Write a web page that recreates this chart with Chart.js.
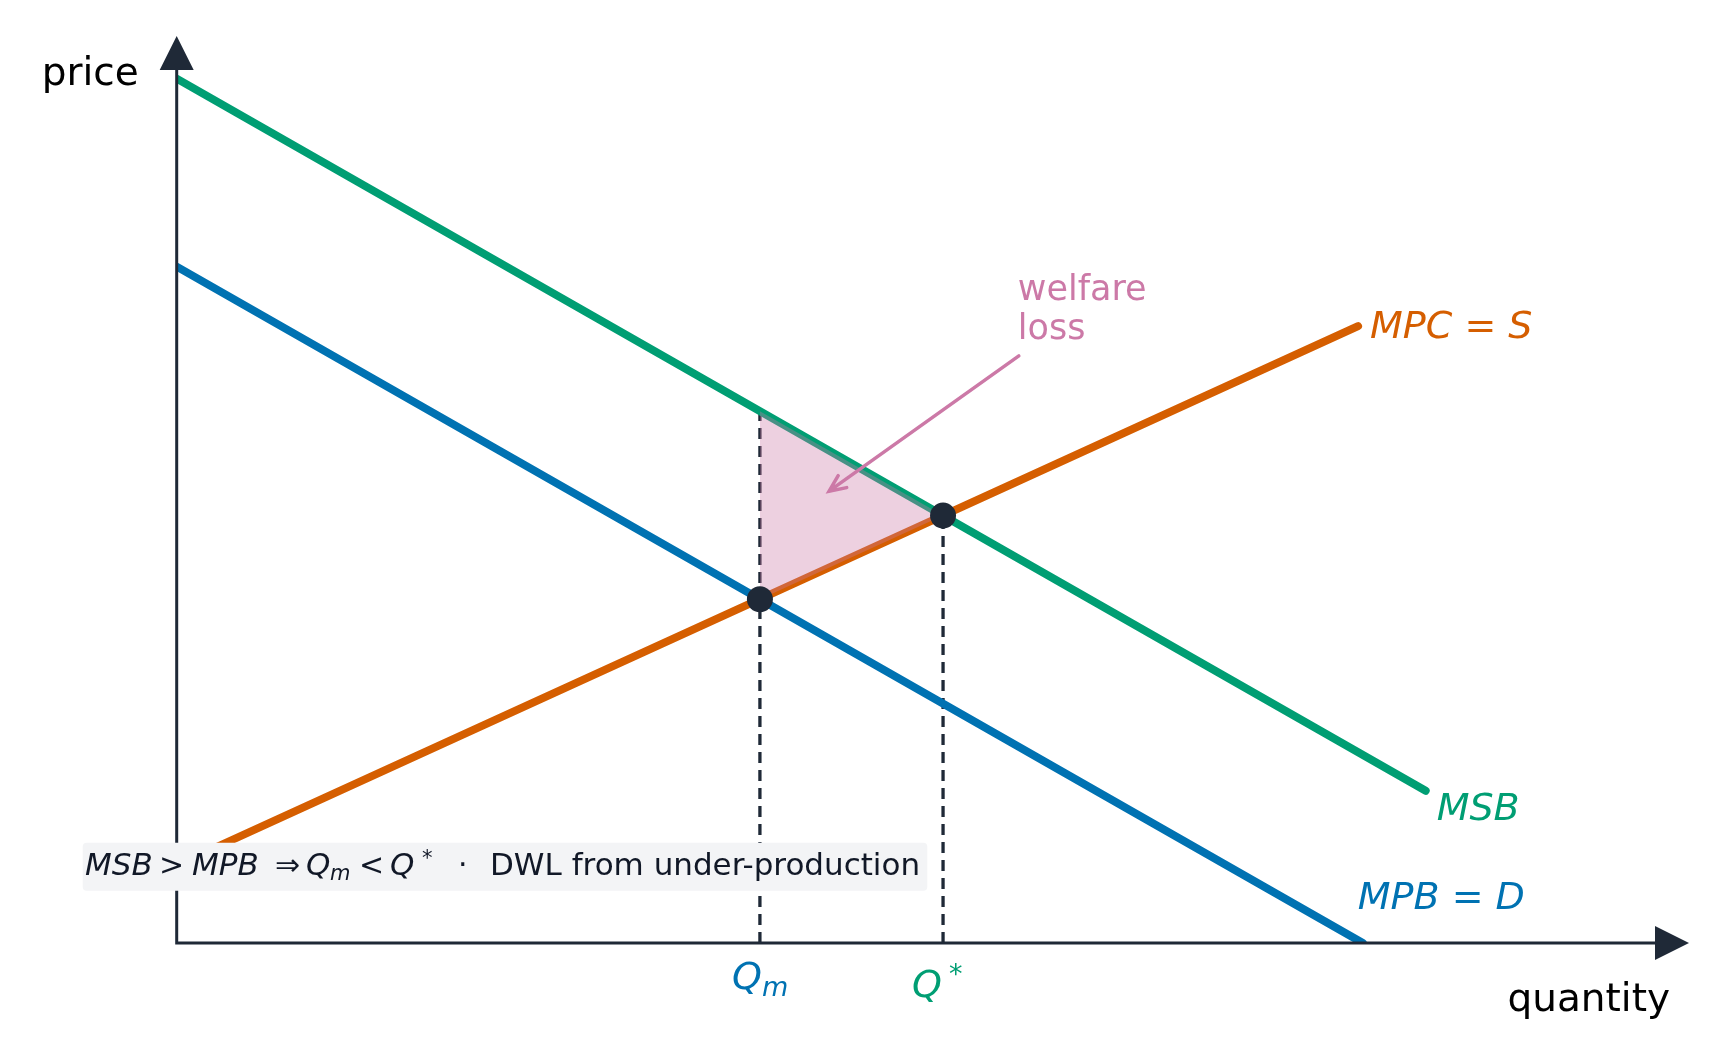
<!DOCTYPE html>
<html>
<head>
<meta charset="utf-8">
<script src="https://cdn.jsdelivr.net/npm/chart.js@4"></script>
<style>
  html, body { margin: 0; padding: 0; background: #fff; }
  #wrap { width: 1726px; height: 1062px; }
</style>
</head>
<body>
<div id="wrap"><canvas id="chart"></canvas></div>
<script>
// curves (quantity, price)
const msbQ = [0, 10.53];
const msbP = [12.78, 2.25];
const mpbQ = [0, 10];
const mpbP = [10, 0];
const mpcQ = [0, 9.96];
const mpcP = [1.15, 9.12];

// market outcome and social optimum
const eqQ = [4.917, 6.461];
const eqP = [5.083, 6.319];

// welfare loss triangle
const dwlQ = [4.917, 6.461];
const dwlTop = [7.863, 6.319];
const dwlBottom = [5.083, 6.319];

// annotation arrow (tail, head)
const arrowQ = [7.1, 5.5];
const arrowP = [8.68, 6.68];

const axisMax = [12.75, 13.41];

const curveNames = ["MSB", "MPB = D", "MPC = S"];
const axisTitles = ["price", "quantity"];
const noteText = "DWL from under-production";
const calloutLines = ["welfare", "loss"];

const green = "#009E73";
const blue = "#0072B2";
const orange = "#D55E00";
const pink = "#CC79A7";
const ink = "#1f2937";
const font = '"DejaVu Sans", sans-serif';

const pts = (qs, ps) => qs.map((q, i) => ({ x: q, y: ps[i] }));

function curve(label, qs, ps, color) {
    return {
        label: label,
        data: pts(qs, ps),
        showLine: true,
        borderColor: color,
        borderWidth: 8,
        borderCapStyle: "round",
        pointRadius: 0,
        fill: false,
        clip: 0,
        order: 2
    };
}

function guide(q, p) {
    return {
        data: [{ x: q, y: 0 }, { x: q, y: p }],
        showLine: true,
        borderColor: ink,
        borderWidth: 3.3,
        borderDash: [11, 7],
        pointRadius: 0,
        fill: false,
        order: 3
    };
}

const decor = {
    id: "decor",
    afterDatasetsDraw(chart) {
        const { ctx, scales: { x, y } } = chart;
        const px = v => x.getPixelForValue(v);
        const py = v => y.getPixelForValue(v);
        const x0 = px(0), y0 = py(0);
        const xEnd = px(axisMax[0]), yEnd = py(axisMax[1]);
        ctx.save();

        // axes with arrowheads
        ctx.strokeStyle = ink;
        ctx.lineWidth = 3;
        ctx.lineJoin = "miter";
        ctx.beginPath();
        ctx.moveTo(x0, yEnd + 30);
        ctx.lineTo(x0, y0);
        ctx.lineTo(xEnd - 30, y0);
        ctx.stroke();
        ctx.fillStyle = ink;
        ctx.beginPath();
        ctx.moveTo(xEnd, y0);
        ctx.lineTo(xEnd - 34, y0 - 17);
        ctx.lineTo(xEnd - 34, y0 + 17);
        ctx.closePath();
        ctx.fill();
        ctx.beginPath();
        ctx.moveTo(x0, yEnd);
        ctx.lineTo(x0 - 17, yEnd + 34);
        ctx.lineTo(x0 + 17, yEnd + 34);
        ctx.closePath();
        ctx.fill();

        // axis titles
        ctx.fillStyle = "#000";
        ctx.font = "39px " + font;
        ctx.textAlign = "right";
        ctx.textBaseline = "alphabetic";
        ctx.fillText(axisTitles[0], x0 - 38, 85);
        ctx.fillText(axisTitles[1], xEnd - 19, y0 + 68);

        // curve labels
        ctx.textAlign = "left";
        ctx.font = "italic 38px " + font;
        ctx.fillStyle = green;
        ctx.fillText(curveNames[0], px(msbQ[1]) + 11, py(msbP[1]) + 29);
        ctx.fillStyle = blue;
        ctx.fillText(curveNames[1], px(mpbQ[1]) - 5, py(mpbP[1]) - 34);
        ctx.fillStyle = orange;
        ctx.fillText(curveNames[2], px(mpcQ[1]) + 12, py(mpcP[1]) + 12);

        // quantity markers on the axis
        ctx.font = "italic 38px " + font;
        ctx.fillStyle = blue;
        let qx = px(eqQ[0]) - 28;
        ctx.fillText("Q", qx, y0 + 46);
        ctx.font = "italic 27px " + font;
        ctx.fillText("m", qx + 30, y0 + 53);
        ctx.fillStyle = green;
        ctx.font = "italic 38px " + font;
        qx = px(eqQ[1]) - 31;
        ctx.fillText("Q", qx, y0 + 54);
        ctx.font = "27px " + font;
        ctx.fillText("*", qx + 37, y0 + 40);

        // callout arrow
        const ax = px(arrowQ[0]), ay = py(arrowP[0]);
        const bx = px(arrowQ[1]), by = py(arrowP[1]);
        const ang = Math.atan2(ay - by, ax - bx);
        ctx.strokeStyle = pink;
        ctx.lineWidth = 3.5;
        ctx.lineCap = "round";
        ctx.beginPath();
        ctx.moveTo(ax, ay);
        ctx.lineTo(bx, by);
        ctx.moveTo(bx + 18 * Math.cos(ang - 0.42), by + 18 * Math.sin(ang - 0.42));
        ctx.lineTo(bx, by);
        ctx.lineTo(bx + 18 * Math.cos(ang + 0.42), by + 18 * Math.sin(ang + 0.42));
        ctx.stroke();
        ctx.fillStyle = pink;
        ctx.font = "35px " + font;
        ctx.fillText(calloutLines[0], ax - 1, ay - 56);
        ctx.fillText(calloutLines[1], ax - 1, ay - 16.5);

        // note box
        ctx.fillStyle = "#f3f4f6";
        ctx.beginPath();
        ctx.roundRect(82.7, 842.7, 844.6, 48, 4);
        ctx.fill();
        ctx.fillStyle = "#111827";
        const base = 875;
        const seg = (t, style, size, xx, dy) => {
            ctx.font = style + " " + size + "px " + font;
            ctx.fillText(t, xx, base + (dy || 0));
        };
        seg("MSB", "italic", 31, 85);
        seg(">", "normal", 30, 159);
        seg("MPB", "italic", 31, 192);
        seg("\u21d2", "normal", 30, 275);
        seg("Q", "italic", 31, 306);
        seg("m", "italic", 21, 330, 5);
        seg("<", "normal", 30, 359);
        seg("Q", "italic", 31, 390);
        seg("*", "normal", 21, 422, -10);
        seg("\u00b7", "normal", 30, 458);
        seg(noteText, "normal", 31, 490);

        ctx.restore();
    }
};

new Chart(document.getElementById("chart"), {
    type: "scatter",
    data: {
        datasets: [
            {
                data: pts(eqQ, eqP),
                pointRadius: 13,
                pointBackgroundColor: ink,
                pointBorderWidth: 0,
                showLine: false,
                order: 0
            },
            {
                data: pts(dwlQ, dwlTop),
                showLine: true,
                borderWidth: 0,
                pointRadius: 0,
                backgroundColor: "rgba(204,121,167,0.35)",
                fill: "+1",
                order: 1
            },
            {
                data: pts(dwlQ, dwlBottom),
                showLine: true,
                borderWidth: 0,
                pointRadius: 0,
                fill: false,
                order: 1
            },
            curve(curveNames[0], msbQ, msbP, green),
            curve(curveNames[1], mpbQ, mpbP, blue),
            curve(curveNames[2], mpcQ, mpcP, orange),
            guide(eqQ[0], dwlTop[0]),
            guide(eqQ[1], eqP[1])
        ]
    },
    options: {
        responsive: true,
        maintainAspectRatio: false,
        animation: false,
        layout: { padding: { left: 176.7, right: 37, top: 36, bottom: 119 } },
        plugins: {
            legend: { display: false },
            tooltip: { enabled: false }
        },
        scales: {
            x: { type: "linear", min: 0, max: axisMax[0], display: false },
            y: { type: "linear", min: 0, max: axisMax[1], display: false }
        }
    },
    plugins: [decor]
});
</script>
</body>
</html>
